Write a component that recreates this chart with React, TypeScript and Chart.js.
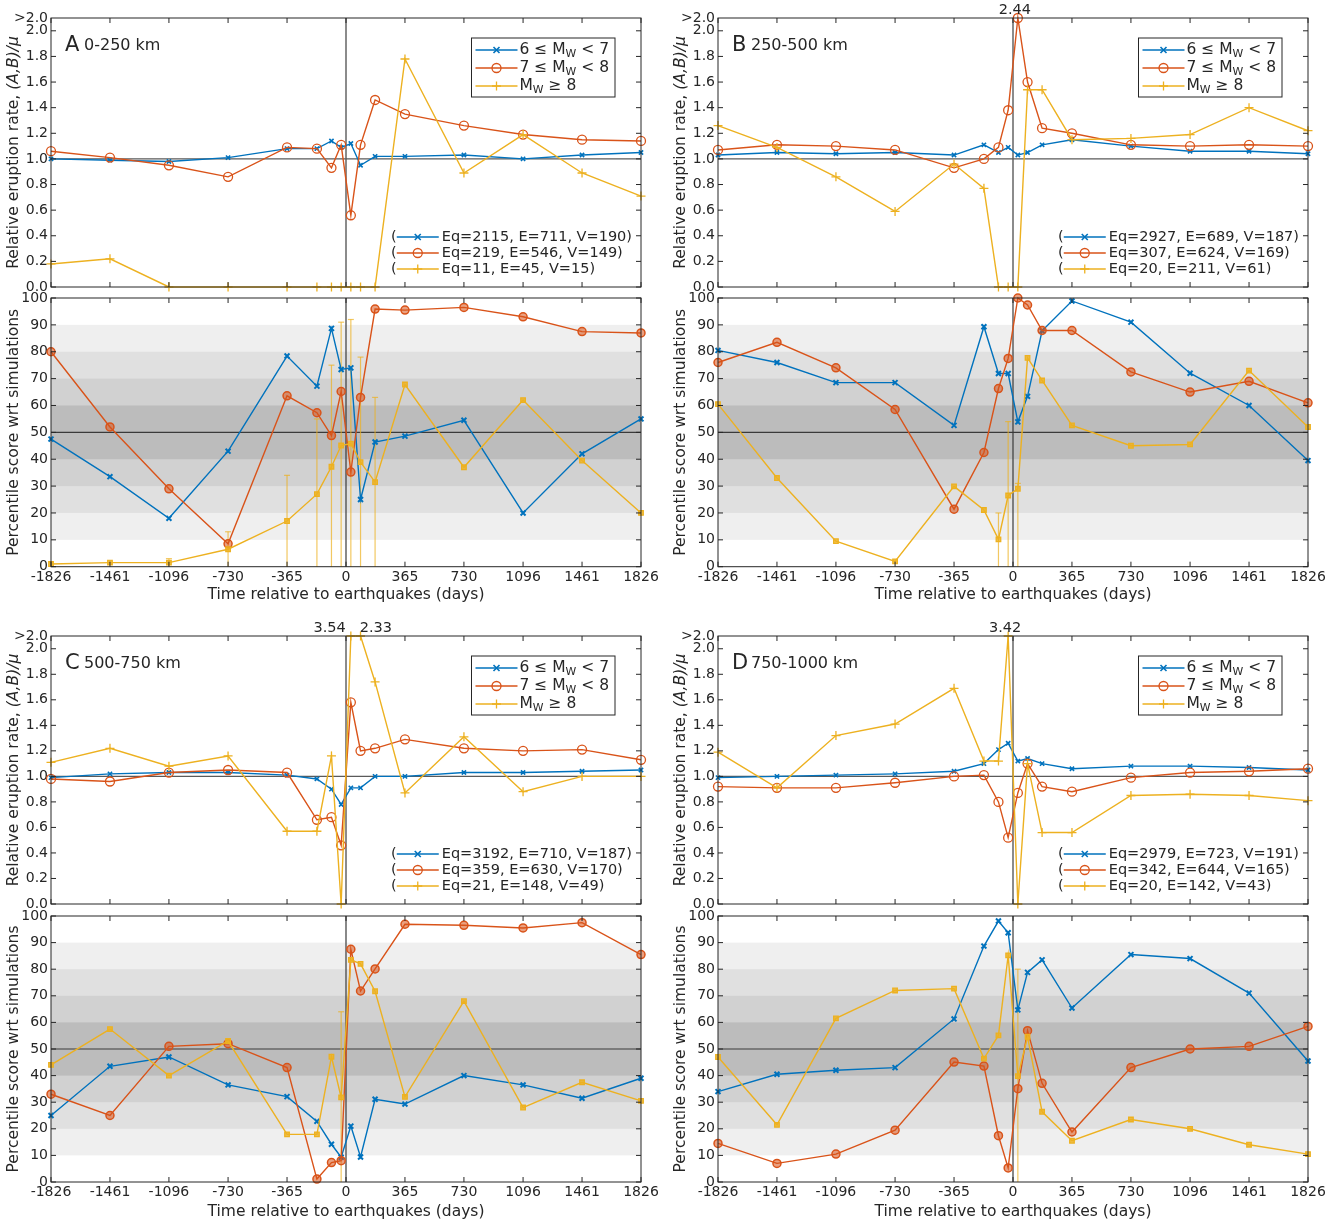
import React, { useEffect, useRef } from "react";
import { Chart, registerables } from "chart.js";

Chart.register(...registerables);

const FONT = "DejaVu Sans";
const AXIS_COLOR = "#262626";
const BLUE = "#0072BD";
const RED = "#D95319";
const YELLOW = "#EDB120";

// ---------------- data ----------------
const DAYS = [-1826, -1461, -1096, -730, -365, -180, -90, -30, 30, 90, 180, 365, 730, 1096, 1461, 1826];
const X_TICKS = [-1826, -1461, -1096, -730, -365, 0, 365, 730, 1096, 1461, 1826];
const RATE_TICKS = [0, 0.2, 0.4, 0.6, 0.8, 1.0, 1.2, 1.4, 1.6, 1.8, 2.0];
const RATE_MAX = 2.1;
const PCT_TICKS = [0, 10, 20, 30, 40, 50, 60, 70, 80, 90, 100];
const BAND_LEVELS = [10, 20, 30, 40];
const BAND_COLORS = ["#efefef", "#e0e0e0", "#d1d1d1", "#bcbcbc"];

// Panel A: 0-250 km
const A_RATE_M6 = [1.0, 0.99, 0.98, 1.01, 1.08, 1.08, 1.14, 1.09, 1.12, 0.95, 1.02, 1.02, 1.03, 1.0, 1.03, 1.05];
const A_RATE_M7 = [1.06, 1.01, 0.95, 0.86, 1.09, 1.08, 0.93, 1.11, 0.56, 1.11, 1.46, 1.35, 1.26, 1.19, 1.15, 1.14];
const A_RATE_M8 = [0.18, 0.22, 0, 0, 0, 0, 0, 0, 0, 0, 0, 1.78, 0.89, 1.19, 0.89, 0.71];
const A_PCT_M6 = [47.5, 33.5, 18, 43, 78.4, 67.2, 88.7, 73.4, 74, 25, 46.4, 48.6, 54.5, 20, 42, 55];
const A_PCT_M7 = [80, 52, 29, 8.5, 63.6, 57.3, 48.8, 65.2, 35.2, 63, 95.9, 95.5, 96.5, 93, 87.5, 87];
const A_PCT_M8 = [1, 1.5, 1.5, 6.5, 17, 27, 37.2, 45.1, 45.8, 38.9, 31.5, 67.8, 37, 62, 39.5, 20];
const A_PCT_M8_ERR = [null, null, 3, 13, 34, 55, 75, 91, 92, 78, 63, null, null, null, null, null];
const A_COUNTS = ["Eq=2115, E=711, V=190)", "Eq=219, E=546, V=149)", "Eq=11, E=45, V=15)"];

// Panel B: 250-500 km
const B_RATE_M6 = [1.03, 1.05, 1.04, 1.05, 1.03, 1.11, 1.05, 1.09, 1.03, 1.05, 1.11, 1.15, 1.1, 1.06, 1.06, 1.04];
const B_RATE_M7 = [1.07, 1.11, 1.1, 1.07, 0.93, 1.0, 1.09, 1.38, 2.44, 1.6, 1.24, 1.2, 1.11, 1.1, 1.11, 1.1];
const B_RATE_M8 = [1.26, 1.09, 0.86, 0.59, 0.96, 0.77, 0, 0, 0, 1.54, 1.54, 1.15, 1.16, 1.19, 1.4, 1.22];
const B_PCT_M6 = [80.5, 76, 68.5, 68.5, 52.6, 89.3, 71.9, 71.9, 53.9, 63.4, 87.8, 98.9, 91, 72, 60, 39.5];
const B_PCT_M7 = [76, 83.5, 74, 58.5, 21.4, 42.5, 66.3, 77.5, 100, 97.4, 87.9, 87.9, 72.5, 65, 69, 61];
const B_PCT_M8 = [60.5, 33, 9.5, 2, 29.9, 21.1, 10.2, 26.5, 29, 77.7, 69.3, 52.6, 45, 45.5, 73, 52];
const B_PCT_M8_ERR = [null, null, null, null, null, null, 20, 54, 31, null, null, null, null, null, null, null];
const B_COUNTS = ["Eq=2927, E=689, V=187)", "Eq=307, E=624, V=169)", "Eq=20, E=211, V=61)"];

// Panel C: 500-750 km
const C_RATE_M6 = [0.99, 1.02, 1.03, 1.03, 1.01, 0.98, 0.9, 0.78, 0.91, 0.91, 1.0, 1.0, 1.03, 1.03, 1.04, 1.05];
const C_RATE_M7 = [0.98, 0.96, 1.03, 1.05, 1.03, 0.66, 0.68, 0.46, 1.58, 1.2, 1.22, 1.29, 1.22, 1.2, 1.21, 1.13];
const C_RATE_M8 = [1.11, 1.22, 1.08, 1.16, 0.57, 0.57, 1.16, 0, 3.54, 2.33, 1.74, 0.87, 1.31, 0.88, 1.0, 1.0];
const C_PCT_M6 = [25, 43.5, 47, 36.5, 32.1, 22.8, 14.2, 9.3, 21, 9.4, 31.1, 29.3, 40, 36.5, 31.5, 39];
const C_PCT_M7 = [33, 25, 51, 52, 43, 1.1, 7.3, 8, 87.5, 71.8, 80.1, 96.9, 96.5, 95.5, 97.5, 85.5];
const C_PCT_M8 = [44, 57.5, 40, 53, 17.9, 17.9, 47.1, 31.8, 83.5, 82, 71.7, 32, 68, 28, 37.5, 30.5];
const C_PCT_M8_ERR = [null, null, null, null, null, null, null, 64, null, null, null, null, null, null, null, null];
const C_COUNTS = ["Eq=3192, E=710, V=187)", "Eq=359, E=630, V=170)", "Eq=21, E=148, V=49)"];

// Panel D: 750-1000 km
const D_RATE_M6 = [0.99, 1.0, 1.01, 1.02, 1.04, 1.1, 1.21, 1.26, 1.12, 1.14, 1.1, 1.06, 1.08, 1.08, 1.07, 1.05];
const D_RATE_M7 = [0.92, 0.91, 0.91, 0.95, 1.0, 1.01, 0.8, 0.52, 0.87, 1.1, 0.92, 0.88, 0.99, 1.03, 1.04, 1.06];
const D_RATE_M8 = [1.19, 0.91, 1.32, 1.41, 1.69, 1.12, 1.12, 3.42, 0, 1.1, 0.56, 0.56, 0.85, 0.86, 0.85, 0.81];
const D_PCT_M6 = [34, 40.5, 42, 43, 61.3, 88.7, 98.1, 93.7, 64.7, 78.8, 83.5, 65.4, 85.5, 84, 71, 45.5];
const D_PCT_M7 = [14.5, 7, 10.5, 19.5, 45.1, 43.6, 17.4, 5.3, 35.1, 56.9, 37.1, 18.8, 43, 50, 51, 58.5];
const D_PCT_M8 = [47, 21.5, 61.5, 72, 72.7, 46.4, 55.1, 85.2, 39.8, 54.6, 26.4, 15.5, 23.5, 20, 14, 10.5];
const D_PCT_M8_ERR = [null, null, null, null, null, null, null, null, 80, null, null, null, null, null, null, null];
const D_COUNTS = ["Eq=2979, E=723, V=191)", "Eq=342, E=644, V=165)", "Eq=20, E=142, V=43)"];

type Seg = { t: string; sub?: boolean; it?: boolean };
const SERIES_LABELS: Seg[][] = [
  [{ t: "6 ≤ M" }, { t: "W", sub: true }, { t: " < 7" }],
  [{ t: "7 ≤ M" }, { t: "W", sub: true }, { t: " < 8" }],
  [{ t: "M" }, { t: "W", sub: true }, { t: " ≥ 8" }],
];
const RATE_TITLE: Seg[] = [{ t: "Relative eruption rate, " }, { t: "(A,B)/μ", it: true }];
const PCT_TITLE = "Percentile score wrt simulations";
const X_TITLE = "Time relative to earthquakes (days)";
const SERIES_COLORS = [BLUE, RED, YELLOW];

const PANELS = [
  { letter: "A", range: "0-250 km", col: 0, row: 0, rate: [A_RATE_M6, A_RATE_M7, A_RATE_M8], pct: [A_PCT_M6, A_PCT_M7, A_PCT_M8], err: A_PCT_M8_ERR, counts: A_COUNTS },
  { letter: "B", range: "250-500 km", col: 1, row: 0, rate: [B_RATE_M6, B_RATE_M7, B_RATE_M8], pct: [B_PCT_M6, B_PCT_M7, B_PCT_M8], err: B_PCT_M8_ERR, counts: B_COUNTS },
  { letter: "C", range: "500-750 km", col: 0, row: 1, rate: [C_RATE_M6, C_RATE_M7, C_RATE_M8], pct: [C_PCT_M6, C_PCT_M7, C_PCT_M8], err: C_PCT_M8_ERR, counts: C_COUNTS },
  { letter: "D", range: "750-1000 km", col: 1, row: 1, rate: [D_RATE_M6, D_RATE_M7, D_RATE_M8], pct: [D_PCT_M6, D_PCT_M7, D_PCT_M8], err: D_PCT_M8_ERR, counts: D_COUNTS },
];

// ---------------- layout ----------------
const COL_X = [0, 667];
const PLOT_L = 51;
const PLOT_R = 641;
const RATE_ROWS = [{ top: 18, bottom: 287 }, { top: 636, bottom: 904 }];
const PCT_ROWS = [{ top: 298, bottom: 566.7, title: 594 }, { top: 916, bottom: 1182, title: 1211 }];

// ---------------- drawing helpers ----------------
function fontFor(s: Seg, size: number) {
  const sz = s.sub ? size * 0.7 : size;
  return `${s.it ? "italic " : ""}${sz}px "${FONT}"`;
}
function richWidth(ctx: CanvasRenderingContext2D, segs: Seg[], size: number) {
  let w = 0;
  for (const s of segs) {
    ctx.font = fontFor(s, size);
    w += ctx.measureText(s.t).width;
  }
  return w;
}
function drawRich(ctx: CanvasRenderingContext2D, segs: Seg[], x: number, y: number, size: number) {
  ctx.textAlign = "left";
  ctx.textBaseline = "middle";
  for (const s of segs) {
    ctx.font = fontFor(s, size);
    ctx.fillText(s.t, x, s.sub ? y + size * 0.3 : y);
    x += ctx.measureText(s.t).width;
  }
}
function drawMarker(ctx: CanvasRenderingContext2D, style: string, x: number, y: number, r: number, color: string) {
  ctx.save();
  ctx.strokeStyle = color;
  ctx.lineWidth = style === "crossRot" ? 1.6 : 1.3;
  ctx.beginPath();
  if (style === "crossRot") {
    ctx.moveTo(x - r, y - r); ctx.lineTo(x + r, y + r);
    ctx.moveTo(x - r, y + r); ctx.lineTo(x + r, y - r);
  } else if (style === "cross") {
    ctx.moveTo(x - r, y); ctx.lineTo(x + r, y);
    ctx.moveTo(x, y - r); ctx.lineTo(x, y + r);
  } else {
    ctx.arc(x, y, r, 0, Math.PI * 2);
  }
  ctx.stroke();
  ctx.restore();
}
function seg(ctx: CanvasRenderingContext2D, x1: number, y1: number, x2: number, y2: number) {
  ctx.beginPath();
  ctx.moveTo(x1, y1);
  ctx.lineTo(x2, y2);
  ctx.stroke();
}

const RATE_STYLES = [
  { pointStyle: "crossRot", r: 3, bw: 1.6 },
  { pointStyle: "circle", r: 4.5, bw: 1.3 },
  { pointStyle: "cross", r: 4.5, bw: 1.3 },
];
const TITLE_SIZE = 15.5;

function makeDecor(kind: "rate" | "pct", panel: any) {
  return {
    id: "decor" + kind,
    beforeDatasetsDraw(chart: any) {
      const { ctx, chartArea: a, scales } = chart;
      const x = scales.x, y = scales.y;
      ctx.save();
      if (kind === "pct") {
        BAND_LEVELS.forEach((lv, i) => {
          const y1 = y.getPixelForValue(100 - lv);
          const y2 = y.getPixelForValue(lv);
          ctx.fillStyle = BAND_COLORS[i];
          ctx.fillRect(a.left, y1, a.right - a.left, y2 - y1);
        });
      }
      ctx.strokeStyle = kind === "rate" ? "#5a5a5a" : "#3a3a3a";
      ctx.lineWidth = kind === "rate" ? 1.4 : 1.2;
      const yr = y.getPixelForValue(kind === "rate" ? 1 : 50);
      seg(ctx, a.left, yr, a.right, yr);
      const x0 = x.getPixelForValue(0);
      seg(ctx, x0, a.top, x0, a.bottom);
      if (kind === "pct") {
        ctx.strokeStyle = "rgba(237,177,32,0.7)";
        ctx.lineWidth = 1.2;
        panel.err.forEach((hi: number | null, i: number) => {
          if (hi == null) return;
          const px = x.getPixelForValue(DAYS[i]);
          const py = y.getPixelForValue(hi);
          const pb = y.getPixelForValue(0);
          seg(ctx, px, py, px, pb);
          seg(ctx, px - 3, py, px + 3, py);
        });
      }
      ctx.restore();
    },
    afterDatasetsDraw(chart: any) {
      const { ctx, chartArea: a, scales } = chart;
      const x = scales.x, y = scales.y;
      ctx.save();
      ctx.strokeStyle = AXIS_COLOR;
      ctx.lineWidth = 1;
      ctx.strokeRect(a.left, a.top, a.right - a.left, a.bottom - a.top);
      const TL = 5;
      X_TICKS.forEach((v) => {
        const px = x.getPixelForValue(v);
        seg(ctx, px, a.bottom, px, a.bottom - TL);
        seg(ctx, px, a.top, px, a.top + TL);
      });
      (kind === "rate" ? RATE_TICKS : PCT_TICKS).forEach((v) => {
        const py = y.getPixelForValue(v);
        seg(ctx, a.left, py, a.left + TL, py);
        seg(ctx, a.right, py, a.right - TL, py);
      });

      // y-axis title (rotated, with italic part)
      ctx.save();
      ctx.fillStyle = AXIS_COLOR;
      const titleSegs: Seg[] = kind === "rate" ? RATE_TITLE : [{ t: PCT_TITLE }];
      const tw = richWidth(ctx, titleSegs, TITLE_SIZE);
      ctx.translate(13.5, (a.top + a.bottom) / 2);
      ctx.rotate(-Math.PI / 2);
      drawRich(ctx, titleSegs, -tw / 2, 0, TITLE_SIZE);
      ctx.restore();

      if (kind === "rate") {
        ctx.fillStyle = AXIS_COLOR;
        // panel label
        ctx.textBaseline = "middle";
        ctx.textAlign = "left";
        ctx.font = `21px "${FONT}"`;
        ctx.fillText(panel.letter, a.left + 14, a.top + 28);
        ctx.font = `16px "${FONT}"`;
        ctx.fillText(panel.range, a.left + 33, a.top + 28);

        // boxed legend
        const LS = 15.5;
        const textW = Math.max(...SERIES_LABELS.map((s) => richWidth(ctx, s, LS)));
        const boxW = 48 + textW + 6;
        const boxR = a.right - 26;
        const boxL = boxR - boxW;
        const boxT = a.top + 20;
        const boxH = 59;
        ctx.fillStyle = "#ffffff";
        ctx.fillRect(boxL, boxT, boxW, boxH);
        ctx.strokeStyle = AXIS_COLOR;
        ctx.lineWidth = 1;
        ctx.strokeRect(boxL, boxT, boxW, boxH);
        SERIES_LABELS.forEach((s, i) => {
          const cy = boxT + 12 + i * 18;
          ctx.strokeStyle = SERIES_COLORS[i];
          ctx.lineWidth = 1.5;
          seg(ctx, boxL + 4, cy, boxL + 46, cy);
          drawMarker(ctx, RATE_STYLES[i].pointStyle, boxL + 25, cy, RATE_STYLES[i].r, SERIES_COLORS[i]);
          ctx.fillStyle = AXIS_COLOR;
          drawRich(ctx, s, boxL + 48, cy, LS);
        });

        // counts legend
        const CS = 14.5;
        ctx.font = `${CS}px "${FONT}"`;
        const cw = Math.max(...panel.counts.map((t: string) => ctx.measureText(t).width));
        const tx = a.right - 9 - cw;
        panel.counts.forEach((t: string, i: number) => {
          const cy = a.bottom - 50 + i * 16;
          ctx.strokeStyle = SERIES_COLORS[i];
          ctx.lineWidth = 1.5;
          seg(ctx, tx - 45, cy, tx - 3, cy);
          drawMarker(ctx, RATE_STYLES[i].pointStyle, tx - 24, cy, RATE_STYLES[i].r, SERIES_COLORS[i]);
          ctx.fillStyle = AXIS_COLOR;
          ctx.font = `${CS}px "${FONT}"`;
          ctx.textAlign = "left";
          ctx.textBaseline = "middle";
          ctx.fillText(t, tx, cy);
          ctx.textAlign = "right";
          ctx.fillText("(", tx - 45, cy);
        });

        // over-range annotations
        const over: { px: number; text: string }[] = [];
        panel.rate.forEach((vals: number[]) => {
          vals.forEach((v, i) => {
            if (v > 2) over.push({ px: x.getPixelForValue(DAYS[i]), text: v.toFixed(2) });
          });
        });
        over.sort((p, q) => p.px - q.px);
        ctx.font = `14.5px "${FONT}"`;
        ctx.fillStyle = AXIS_COLOR;
        ctx.textBaseline = "bottom";
        over.forEach((o, i) => {
          const prev = over[i - 1], next = over[i + 1];
          if (next && next.px - o.px < 40) {
            ctx.textAlign = "right";
            ctx.fillText(o.text, (o.px + next.px) / 2 - 10, a.top - 1);
          } else if (prev && o.px - prev.px < 40) {
            ctx.textAlign = "left";
            ctx.fillText(o.text, (o.px + prev.px) / 2 + 4, a.top - 1);
          } else {
            ctx.textAlign = "center";
            ctx.fillText(o.text, o.px - 3, a.top - 1);
          }
        });
      }
      ctx.restore();
    },
  };
}

function buildConfig(kind: "rate" | "pct", panel: any, canvas: { x: number; y: number; w: number; h: number }) {
  const rowR = RATE_ROWS[panel.row];
  const rowP = PCT_ROWS[panel.row];
  const plotTop = kind === "rate" ? rowR.top : rowP.top;
  const plotBottom = kind === "rate" ? rowR.bottom : rowP.bottom;
  const plotL = COL_X[panel.col] + PLOT_L;
  const plotR = COL_X[panel.col] + PLOT_R;
  const series = kind === "rate" ? panel.rate : panel.pct;
  const datasets = series.map((vals: number[], si: number) => {
    const base: any = {
      label: String(si),
      data: DAYS.map((d, i) => ({ x: d, y: kind === "rate" ? Math.min(vals[i], RATE_MAX) : vals[i] })),
      borderColor: SERIES_COLORS[si],
      borderWidth: 1.4,
      tension: 0,
      clip: false,
      order: 2 - si,
    };
    if (kind === "rate") {
      base.pointStyle = RATE_STYLES[si].pointStyle;
      base.pointRadius = RATE_STYLES[si].r;
      base.pointBorderWidth = RATE_STYLES[si].bw;
      base.pointBackgroundColor = "rgba(0,0,0,0)";
      base.pointBorderColor = SERIES_COLORS[si];
    } else {
      const styles = [
        { ps: "crossRot", r: 3.5, bw: 2, bg: "rgba(0,0,0,0)" },
        { ps: "circle", r: 4, bw: 1.5, bg: "rgba(217,83,25,0.55)" },
        { ps: "rect", r: 3.2, bw: 1.3, bg: "rgba(237,177,32,0.8)" },
      ][si];
      base.pointStyle = styles.ps;
      base.pointRadius = styles.r;
      base.pointBorderWidth = styles.bw;
      base.pointBackgroundColor = styles.bg;
      base.pointBorderColor = SERIES_COLORS[si];
    }
    return base;
  });
  const tickFont = { family: FONT, size: 14 };
  const titleFont = { family: FONT, size: TITLE_SIZE };
  return {
    type: "line",
    data: { datasets },
    options: {
      animation: false,
      responsive: false,
      maintainAspectRatio: false,
      devicePixelRatio: 1,
      layout: { padding: { top: plotTop - canvas.y, right: canvas.x + canvas.w - plotR, left: 0, bottom: 0 } },
      plugins: { legend: { display: false }, tooltip: { enabled: false } },
      scales: {
        x: {
          type: "linear",
          min: -1826,
          max: 1826,
          afterBuildTicks: (s: any) => { s.ticks = X_TICKS.map((v) => ({ value: v })); },
          afterFit: (s: any) => { s.height = canvas.y + canvas.h - plotBottom; },
          grid: { display: false, drawTicks: false },
          border: { display: false },
          ticks: { display: kind === "pct", font: tickFont, color: AXIS_COLOR, padding: 2, maxRotation: 0, autoSkip: false, callback: (v: any) => String(v) },
          title: { display: kind === "pct", text: X_TITLE, font: titleFont, color: AXIS_COLOR, padding: { top: 0, bottom: 0 } },
        },
        y: {
          type: "linear",
          min: 0,
          max: kind === "rate" ? RATE_MAX : 100,
          afterBuildTicks: (s: any) => {
            s.ticks = kind === "rate" ? [...RATE_TICKS, RATE_MAX].map((v) => ({ value: v })) : PCT_TICKS.map((v) => ({ value: v }));
          },
          afterFit: (s: any) => { s.width = plotL - canvas.x; },
          grid: { display: false, drawTicks: false },
          border: { display: false },
          ticks: {
            font: tickFont,
            color: AXIS_COLOR,
            padding: 3,
            autoSkip: false,
            callback: (v: any) => (kind === "rate" ? (v > 2 ? ">2.0" : Number(v).toFixed(1)) : String(v)),
          },
          title: { display: false },
        },
      },
    },
    plugins: [makeDecor(kind, panel)],
  };
}

function PanelChart({ kind, panel }: { kind: "rate" | "pct"; panel: any }) {
  const ref = useRef<HTMLCanvasElement>(null);
  const x = COL_X[panel.col];
  const canvas =
    kind === "rate"
      ? { x, y: RATE_ROWS[panel.row].top - 18, w: 667, h: RATE_ROWS[panel.row].bottom + 13 - (RATE_ROWS[panel.row].top - 18) }
      : { x, y: PCT_ROWS[panel.row].top - 14, w: 667, h: PCT_ROWS[panel.row].title + 9.5 - (PCT_ROWS[panel.row].top - 14) };
  canvas.h = Math.round(canvas.h);
  useEffect(() => {
    const chart = new Chart(ref.current as HTMLCanvasElement, buildConfig(kind, panel, canvas) as any);
    return () => chart.destroy();
  }, []);
  return (
    <canvas
      ref={ref}
      width={canvas.w}
      height={canvas.h}
      style={{ position: "absolute", left: canvas.x, top: canvas.y, width: canvas.w, height: canvas.h }}
    />
  );
}

export default function App() {
  return (
    <div style={{ position: "absolute", left: 0, top: 0, width: 1339, height: 1222, overflow: "hidden", background: "#ffffff" }}>
      {PANELS.map((p) => (
        <React.Fragment key={p.letter}>
          <PanelChart kind="rate" panel={p} />
          <PanelChart kind="pct" panel={p} />
        </React.Fragment>
      ))}
    </div>
  );
}
